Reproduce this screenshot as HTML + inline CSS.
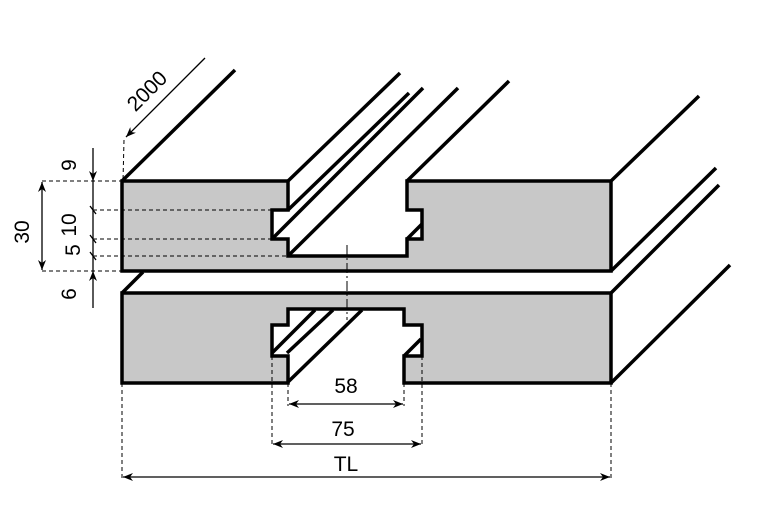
<!DOCTYPE html>
<html><head><style>html,body{margin:0;padding:0;background:#fff}svg{display:block}</style></head><body>
<svg width="758" height="518" viewBox="0 0 758 518" xmlns="http://www.w3.org/2000/svg" font-family="'Liberation Sans', sans-serif">
<defs>
<marker id="a" viewBox="0 0 10 10" refX="10" refY="5" markerWidth="10" markerHeight="10" orient="auto-start-reverse" markerUnits="userSpaceOnUse"><path d="M0,1 L10,5 L0,9 L3,5 Z" fill="#000"/></marker>
</defs>
<path d="M122,181 H288 V210 H272 V239 H288 V256 H407 V239 H422 V210 H407 V181 H611 V271 H122 Z" fill="#c8c8c8" stroke="#000" stroke-width="3.5"/>
<path d="M122,293 H611 V383 H404 V356 H422 V325 H404 V309 H288 V325 H272 V356 H288 V383 H122 Z" fill="#c8c8c8" stroke="#000" stroke-width="3.5"/>
<g stroke="#000" stroke-width="3.5" fill="none">
<line x1="122" y1="181" x2="235" y2="70"/>
<line x1="611" y1="181" x2="699" y2="96"/>
<line x1="611" y1="271" x2="716" y2="168"/>
<line x1="611" y1="293" x2="719" y2="185"/>
<line x1="611" y1="383" x2="730" y2="265"/>
<line x1="122" y1="293" x2="143" y2="272"/>
<line x1="288" y1="181" x2="400" y2="73"/>
<line x1="288" y1="210" x2="409" y2="93"/>
<line x1="272" y1="239" x2="423" y2="88"/>
<line x1="288" y1="256" x2="458" y2="88"/>
<line x1="407" y1="181" x2="509" y2="81"/>
<line x1="407" y1="239" x2="422" y2="224"/>
<line x1="272" y1="353" x2="315" y2="310"/>
<line x1="287" y1="353" x2="333" y2="310"/>
<line x1="288" y1="382" x2="362" y2="310"/>
<line x1="404" y1="356" x2="421" y2="339"/>
</g>
<g stroke="#000" stroke-width="1" stroke-dasharray="4,3" fill="none">
<line x1="42" y1="181" x2="122" y2="181"/>
<line x1="42" y1="271" x2="122" y2="271"/>
<line x1="93" y1="210" x2="272" y2="210"/>
<line x1="93" y1="239" x2="272" y2="239"/>
<line x1="93" y1="256" x2="288" y2="256"/>
<line x1="124" y1="140" x2="123" y2="181"/>
<line x1="122" y1="383" x2="122" y2="480"/>
<line x1="611" y1="383" x2="611" y2="480"/>
<line x1="272" y1="356" x2="272" y2="446"/>
<line x1="422" y1="356" x2="422" y2="446"/>
<line x1="288" y1="383" x2="288" y2="406"/>
<line x1="404" y1="383" x2="404" y2="406"/>
</g>
<line x1="347" y1="245" x2="347" y2="320" stroke="#000" stroke-width="1" stroke-dasharray="10,3,2,3"/>
<g stroke="#000" stroke-width="1.3" fill="none">
<line x1="205" y1="58" x2="126" y2="137" marker-end="url(#a)"/>
<line x1="93" y1="148" x2="93" y2="181" marker-end="url(#a)"/>
<line x1="93" y1="181" x2="93" y2="271"/>
<line x1="93" y1="308" x2="93" y2="271" marker-end="url(#a)"/>
<line x1="42" y1="182" x2="42" y2="270" marker-start="url(#a)" marker-end="url(#a)"/>
<line x1="289" y1="404" x2="403" y2="404" marker-start="url(#a)" marker-end="url(#a)"/>
<line x1="273" y1="444" x2="421" y2="444" marker-start="url(#a)" marker-end="url(#a)"/>
<line x1="123" y1="477" x2="610" y2="477" marker-start="url(#a)" marker-end="url(#a)"/>
<line x1="90" y1="206" x2="96" y2="214"/>
<line x1="90" y1="235" x2="96" y2="243"/>
<line x1="90" y1="252" x2="96" y2="260"/>
</g>
<g font-size="21" fill="#000" text-anchor="middle">
<text transform="translate(152,96) rotate(-45)">2000</text>
<text transform="translate(76,165) rotate(-90)">9</text>
<text transform="translate(76,225) rotate(-90)">10</text>
<text transform="translate(80,250) rotate(-90)">5</text>
<text transform="translate(76,294) rotate(-90)">6</text>
<text transform="translate(29,232) rotate(-90)">30</text>
<text x="346" y="393">58</text>
<text x="343" y="436">75</text>
<text x="346" y="471">TL</text>
</g>
</svg>
</body></html>
